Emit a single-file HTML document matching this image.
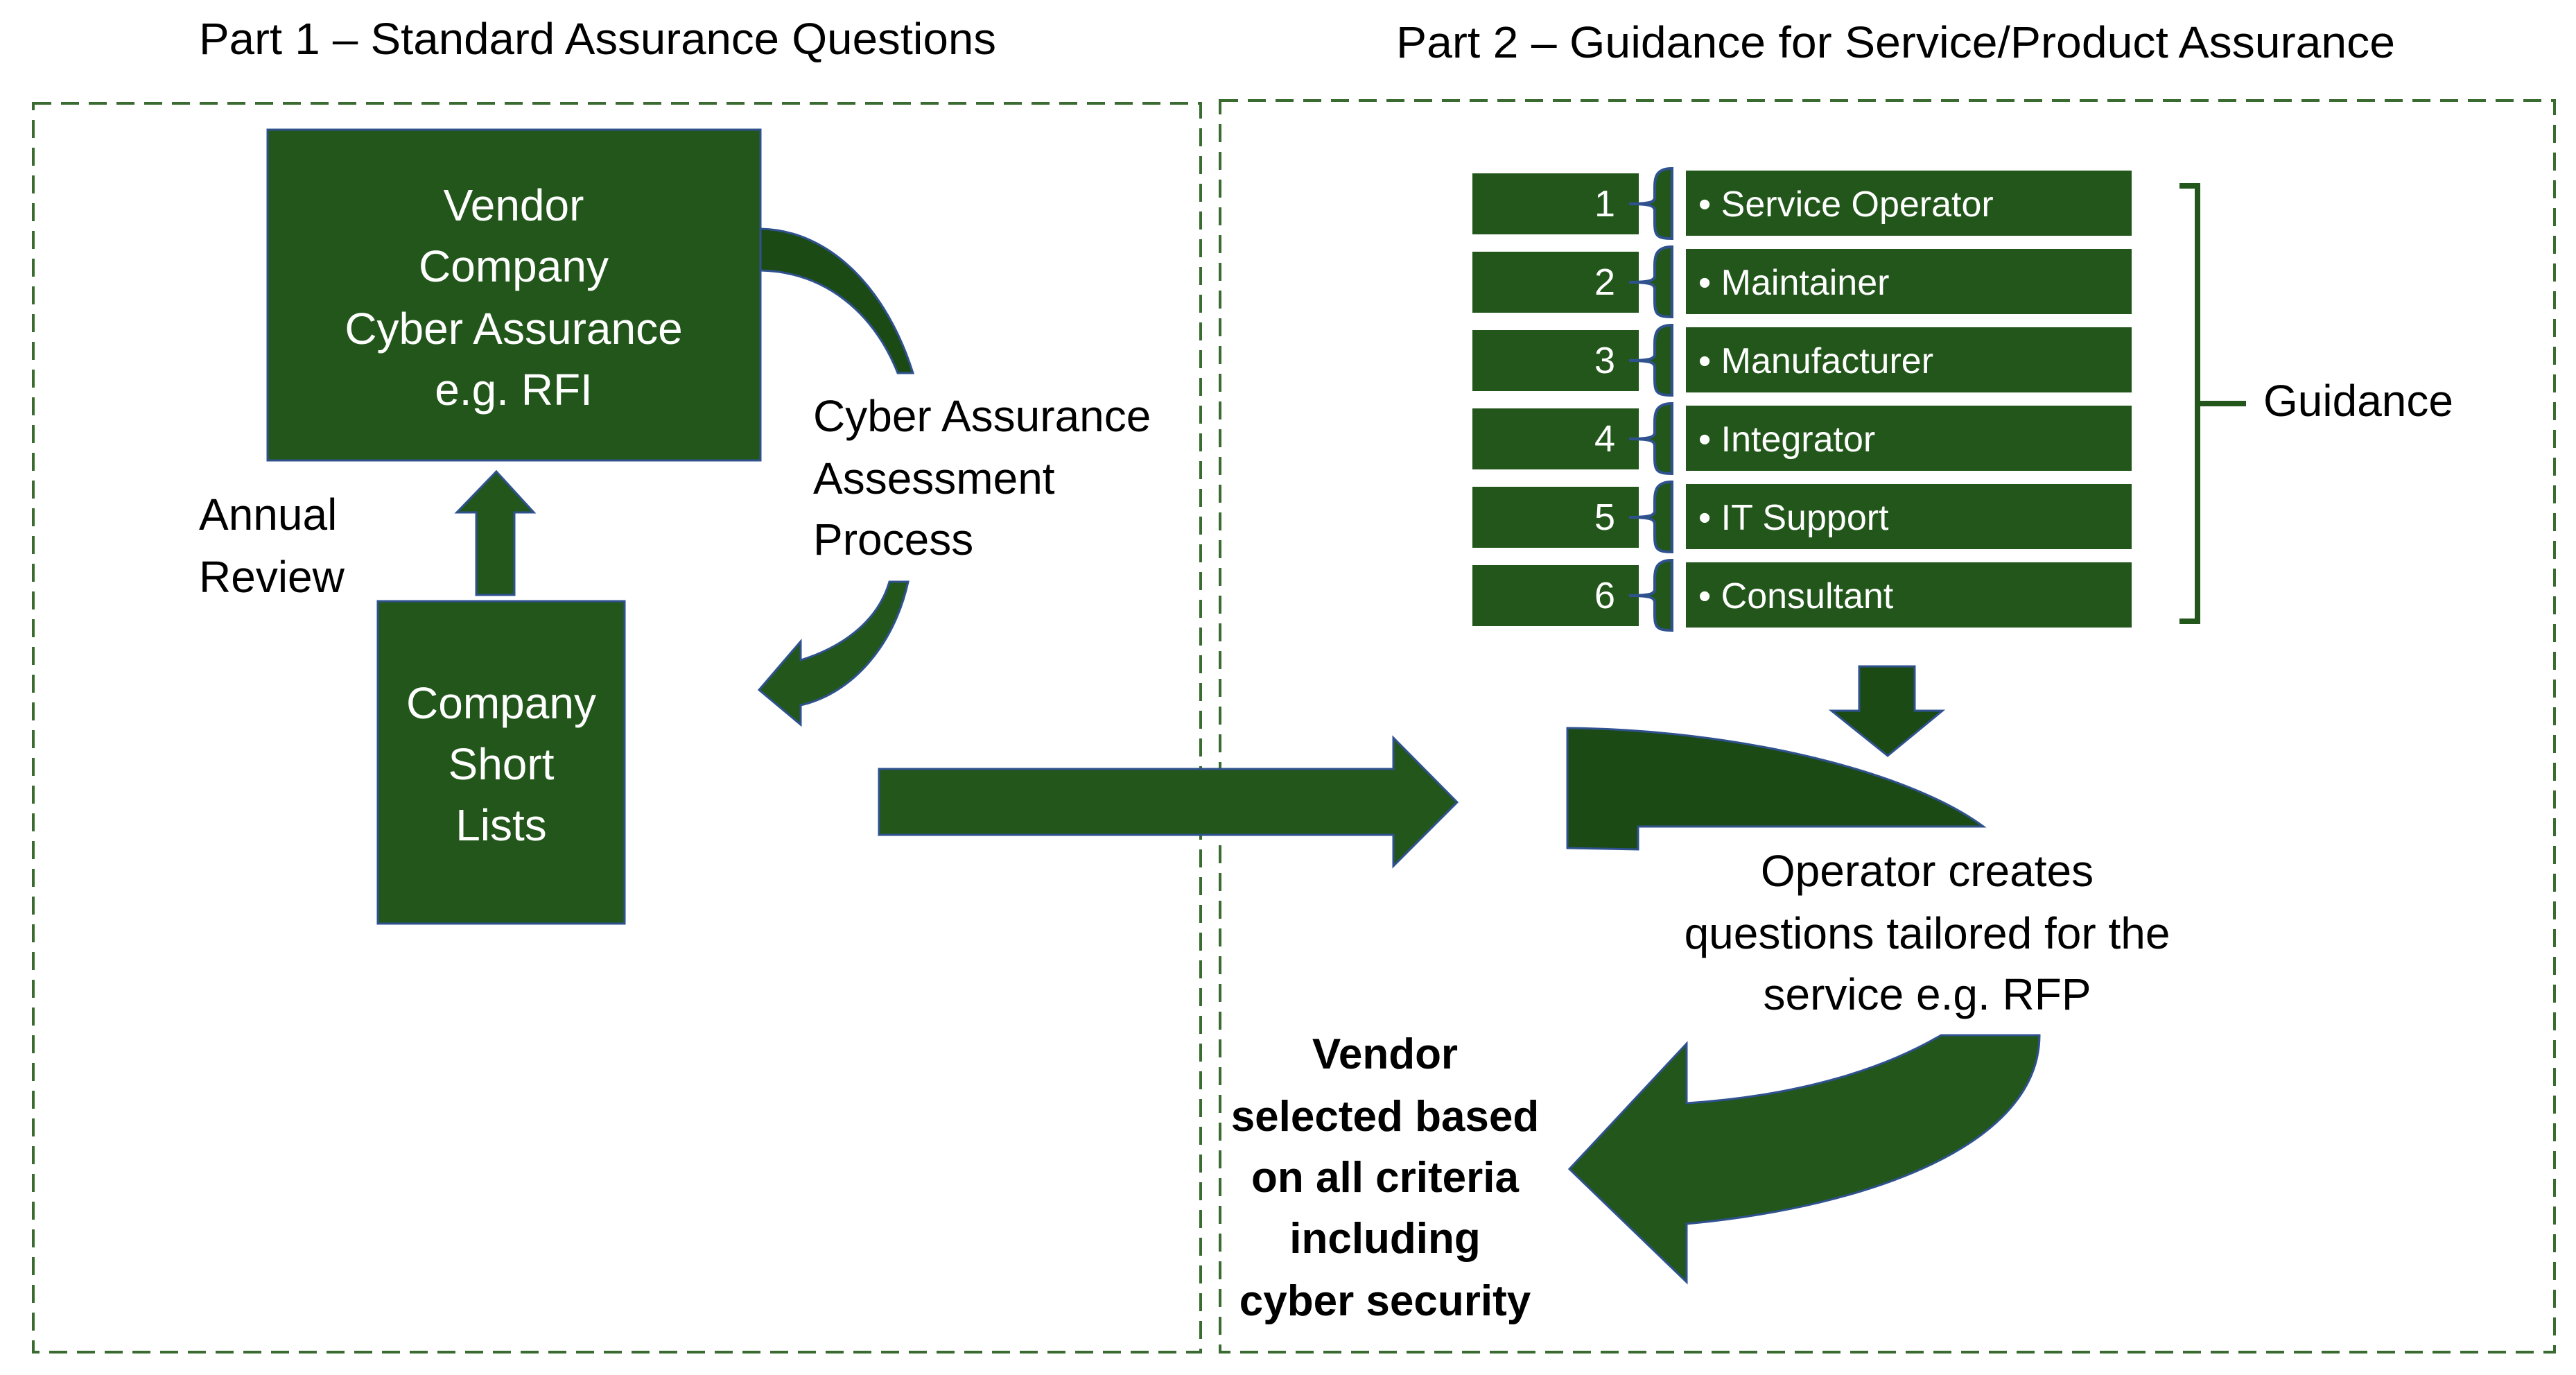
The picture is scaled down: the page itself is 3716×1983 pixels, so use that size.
<!DOCTYPE html>
<html><head><meta charset="utf-8"><style>
html,body{margin:0;padding:0;background:#fff;}
svg{display:block;}
text{font-family:"Liberation Sans",sans-serif;}
</style></head><body>
<svg width="3716" height="1983" viewBox="0 0 3716 1983" xmlns="http://www.w3.org/2000/svg">
<g fill="none" stroke="#3a6b30" stroke-width="4" stroke-dasharray="26,14">
<rect x="48" y="149" width="1684" height="1801"/>
<rect x="1760" y="145" width="1925" height="1805"/>
</g>
<text x="287" y="78" font-size="64" fill="#000" textLength="1150" lengthAdjust="spacingAndGlyphs">Part 1 – Standard Assurance Questions</text>
<text x="2014" y="83" font-size="64" fill="#000" textLength="1441" lengthAdjust="spacingAndGlyphs">Part 2 – Guidance for Service/Product Assurance</text>

<g fill="#22561b" stroke="#2f528f" stroke-width="3">
<rect x="386" y="187" width="711" height="477"/>
<rect x="545" y="867" width="356" height="465"/>
<polygon points="716,680 770,739 742,739 742,858 687,858 687,739 659,739"/>
<polygon points="1268,1109 2010,1109 2010,1064 2102,1157 2010,1249 2010,1204 1268,1204"/>
</g>
<g fill="#1c4a15" stroke="#2f528f" stroke-width="3">
<path d="M1097,330 C1200,332 1280,420 1317,538 L1295,538 C1260,450 1190,392 1097,390 Z"/>
<path d="M1310,839 C1290,930 1230,1000 1155,1017 L1155,1045 L1095,995 L1155,925 L1155,952 C1210,935 1265,900 1283,839 Z" fill="#22561b"/>
<path d="M2261,1050 C2500,1052 2750,1110 2861,1192 L2363,1192 L2363,1225 L2261,1223 Z"/>
<path d="M2942,1493 C2942,1650 2700,1740 2433,1765 L2433,1849 L2264,1686 L2433,1505 L2433,1591 C2600,1580 2720,1540 2800,1493 Z" fill="#22561b"/>
<polygon points="2682,961 2762,961 2762,1025 2802,1025 2723,1090 2642,1025 2682,1025"/>
</g>

<g font-size="64" fill="#fff" text-anchor="middle">
<text x="741" y="318">Vendor</text>
<text x="741" y="406">Company</text>
<text x="741" y="496">Cyber Assurance</text>
<text x="741" y="584">e.g. RFI</text>
<text x="723" y="1036">Company</text>
<text x="723" y="1124">Short</text>
<text x="723" y="1212">Lists</text>
</g>
<g font-size="64" fill="#000">
<text x="287" y="764">Annual</text>
<text x="287" y="854">Review</text>
<text x="1173" y="622">Cyber Assurance</text>
<text x="1173" y="712">Assessment</text>
<text x="1173" y="800">Process</text>
<text x="3265" y="600">Guidance</text>
</g>
<g font-size="64" fill="#000" text-anchor="middle">
<text x="2780" y="1278">Operator creates</text>
<text x="2780" y="1368">questions tailored for the</text>
<text x="2780" y="1456">service e.g. RFP</text>
</g>
<g font-size="62" fill="#000" text-anchor="middle" font-weight="bold">
<text x="1998" y="1541">Vendor</text>
<text x="1998" y="1631">selected based</text>
<text x="1998" y="1719">on all criteria</text>
<text x="1998" y="1807">including</text>
<text x="1998" y="1897">cyber security</text>
</g>

<g fill="#22561b">
<rect x="2124" y="250" width="240" height="88"/><rect x="2432" y="246" width="643" height="94"/>
<rect x="2124" y="363" width="240" height="88"/><rect x="2432" y="359" width="643" height="94"/>
<rect x="2124" y="476" width="240" height="88"/><rect x="2432" y="472" width="643" height="94"/>
<rect x="2124" y="589" width="240" height="88"/><rect x="2432" y="585" width="643" height="94"/>
<rect x="2124" y="702" width="240" height="88"/><rect x="2432" y="698" width="643" height="94"/>
<rect x="2124" y="815" width="240" height="88"/><rect x="2432" y="811" width="643" height="94"/>
</g>
<g fill="#22561b" stroke="#2f528f" stroke-width="4">
<path id="br" d="M2412,243 C2385,243 2387,260 2387,280 L2387,285 C2387,292 2378,294 2350,294 C2378,294 2387,296 2387,304 L2387,320 C2387,340 2390,344 2412,344 Z"/>
<path transform="translate(0,113)" d="M2412,243 C2385,243 2387,260 2387,280 L2387,285 C2387,292 2378,294 2350,294 C2378,294 2387,296 2387,304 L2387,320 C2387,340 2390,344 2412,344 Z"/>
<path transform="translate(0,226)" d="M2412,243 C2385,243 2387,260 2387,280 L2387,285 C2387,292 2378,294 2350,294 C2378,294 2387,296 2387,304 L2387,320 C2387,340 2390,344 2412,344 Z"/>
<path transform="translate(0,339)" d="M2412,243 C2385,243 2387,260 2387,280 L2387,285 C2387,292 2378,294 2350,294 C2378,294 2387,296 2387,304 L2387,320 C2387,340 2390,344 2412,344 Z"/>
<path transform="translate(0,452)" d="M2412,243 C2385,243 2387,260 2387,280 L2387,285 C2387,292 2378,294 2350,294 C2378,294 2387,296 2387,304 L2387,320 C2387,340 2390,344 2412,344 Z"/>
<path transform="translate(0,565)" d="M2412,243 C2385,243 2387,260 2387,280 L2387,285 C2387,292 2378,294 2350,294 C2378,294 2387,296 2387,304 L2387,320 C2387,340 2390,344 2412,344 Z"/>
</g>
<g font-size="54" fill="#fff" text-anchor="end">
<text x="2330" y="312">1</text><text x="2330" y="425">2</text><text x="2330" y="538">3</text>
<text x="2330" y="651">4</text><text x="2330" y="764">5</text><text x="2330" y="877">6</text>
</g>
<g font-size="52" fill="#fff">
<text x="2450" y="312">• Service Operator</text>
<text x="2450" y="425">• Maintainer</text>
<text x="2450" y="538">• Manufacturer</text>
<text x="2450" y="651">• Integrator</text>
<text x="2450" y="764">• IT Support</text>
<text x="2450" y="877">• Consultant</text>
</g>
<path d="M3144,268 L3170,268 L3170,896 L3144,896 M3170,582 L3240,582" fill="none" stroke="#22561b" stroke-width="8"/>
</svg>
</body></html>
